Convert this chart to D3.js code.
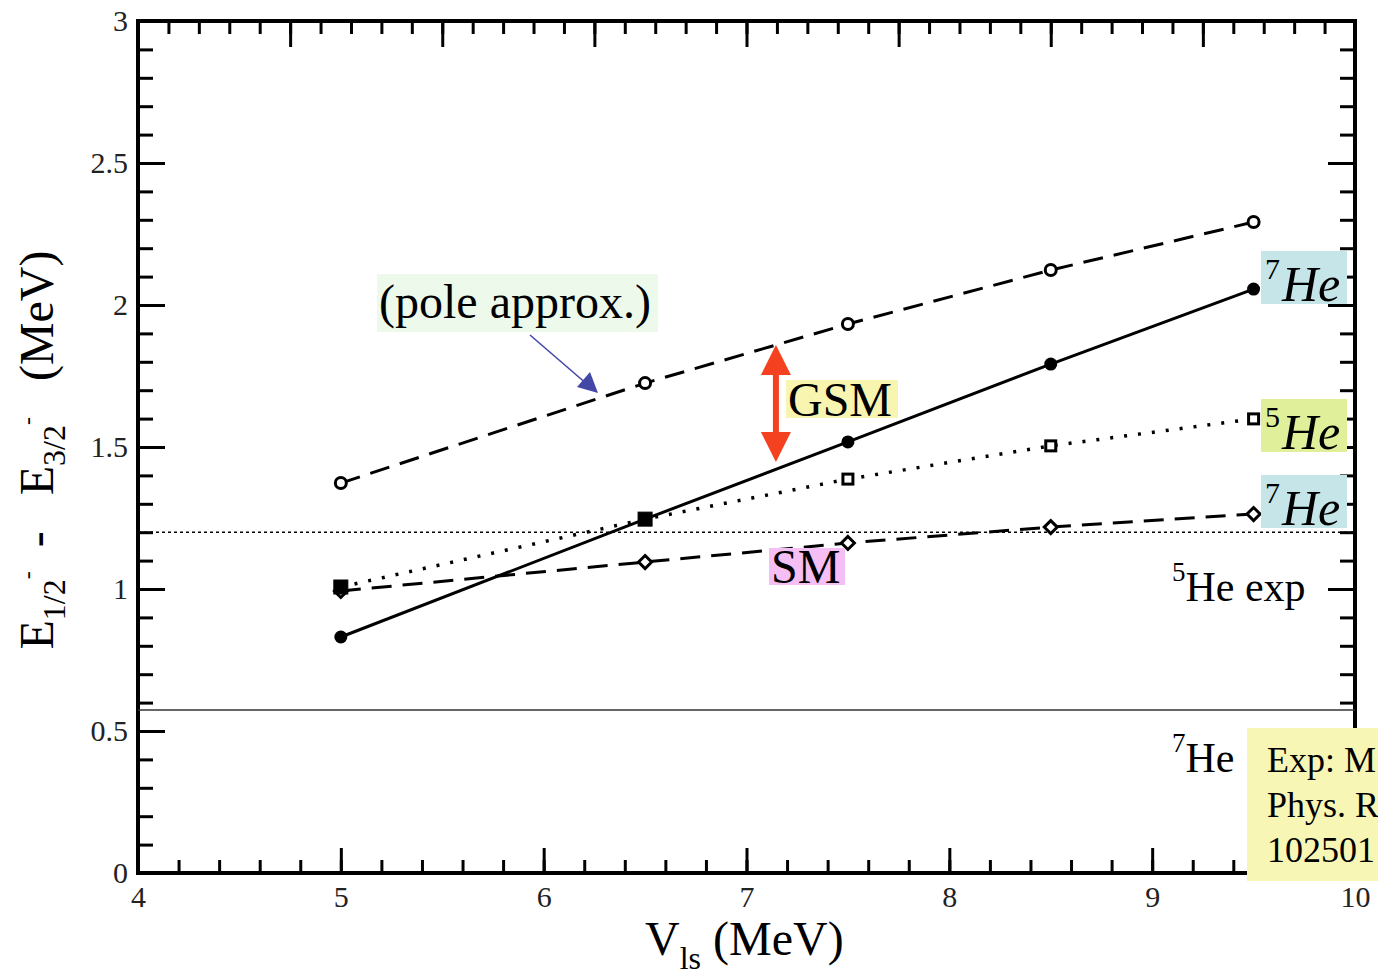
<!DOCTYPE html>
<html lang="en">
<head>
<meta charset="utf-8">
<title>Spin-orbit splitting</title>
<style>
  body { margin: 0; background: #fff; }
  svg { display: block; font-family: "Liberation Serif", "DejaVu Serif", serif; }
</style>
<script src="https://d3js.org/d3.v7.min.js"></script>
</head>
<body>
<script>
// data
var vls = [5, 6.5, 7.5, 8.5, 9.5];
var poleApprox = [1.373, 1.725, 1.933, 2.123, 2.292];
var gsm7He = [0.831, 1.246, 1.518, 1.792, 2.056];
var gsm5He = [1.007, 1.246, 1.387, 1.504, 1.599];
var sm7He = [0.993, 1.095, 1.162, 1.218, 1.264];
var exp5He = 1.20, exp7He = 0.574;
var xTicks = [4, 5, 6, 7, 8, 9, 10];
var yTicks = [0, 0.5, 1, 1.5, 2, 2.5, 3];

var W = 1378, H = 980;
var pL = 138, pR = 1355, pT = 21, pB = 873;

var svg = d3.select("body").append("svg").attr("width", W).attr("height", H);

var x = d3.scaleLinear().domain([4, 10]).range([pL, pR]);
var xTop = d3.scaleLinear().domain([0, 8]).range([pL, pR]);
var y = d3.scaleLinear().domain([0, 3]).range([pB, pT]);

function minor(lo, hi, step) {
  var a = [];
  for (var i = 0; lo + i * step <= hi + 1e-9; i++) a.push(+(lo + i * step).toFixed(3));
  return a;
}

function styleAxis(g) {
  g.select(".domain").remove();
  g.selectAll(".tick line").attr("stroke", "#000").attr("stroke-width", 3);
  g.selectAll(".tick text").attr("font-size", 30).attr("font-family", "Liberation Serif").attr("fill", "#222");
}

// bottom
svg.append("g").attr("transform", "translate(0," + pB + ")")
  .call(d3.axisBottom(x).tickValues(minor(4, 10, 0.2)).tickSize(-13).tickFormat(""))
  .call(styleAxis);
svg.append("g").attr("transform", "translate(0," + pB + ")")
  .call(d3.axisBottom(x).tickValues(xTicks).tickSize(-25).tickPadding(13).tickFormat(d3.format("d")))
  .call(styleAxis);
// top (unlabelled)
svg.append("g").attr("transform", "translate(0," + pT + ")")
  .call(d3.axisTop(xTop).tickValues(minor(0, 8, 0.2)).tickSize(-13).tickFormat(""))
  .call(styleAxis);
svg.append("g").attr("transform", "translate(0," + pT + ")")
  .call(d3.axisTop(xTop).ticks(8).tickSize(-26).tickFormat(""))
  .call(styleAxis);
// left
svg.append("g").attr("transform", "translate(" + pL + ",0)")
  .call(d3.axisLeft(y).tickValues(minor(0, 3, 0.1)).tickSize(-15).tickFormat(""))
  .call(styleAxis);
svg.append("g").attr("transform", "translate(" + pL + ",0)")
  .call(d3.axisLeft(y).tickValues(yTicks).tickSize(-27).tickPadding(10).tickFormat(d3.format("")))
  .call(styleAxis);
// right
svg.append("g").attr("transform", "translate(" + pR + ",0)")
  .call(d3.axisRight(y).tickValues(minor(0, 3, 0.1)).tickSize(-15).tickFormat(""))
  .call(styleAxis);
svg.append("g").attr("transform", "translate(" + pR + ",0)")
  .call(d3.axisRight(y).tickValues(yTicks).tickSize(-27).tickFormat(""))
  .call(styleAxis);

// frame
svg.append("rect").attr("x", pL).attr("y", pT)
  .attr("width", pR - pL).attr("height", pB - pT)
  .attr("fill", "none").attr("stroke", "#000").attr("stroke-width", 4);

// experimental lines
svg.append("line").attr("x1", pL).attr("x2", pR).attr("y1", y(exp5He)).attr("y2", y(exp5He))
  .attr("stroke", "#000").attr("stroke-width", 1.5).attr("stroke-dasharray", "3,3");
svg.append("line").attr("x1", pL).attr("x2", pR).attr("y1", y(exp7He)).attr("y2", y(exp7He))
  .attr("stroke", "#333").attr("stroke-width", 1.6);

var line = d3.line().x(function(d) { return x(d[0]); }).y(function(d) { return y(d[1]); });
function pts(vals) { return vls.map(function(v, i) { return [v, vals[i]]; }); }

// curves
svg.append("path").datum(pts(poleApprox)).attr("d", line)
  .attr("fill", "none").attr("stroke", "#000").attr("stroke-width", 3).attr("stroke-dasharray", "20,11");
svg.append("path").datum(pts(sm7He)).attr("d", line)
  .attr("fill", "none").attr("stroke", "#000").attr("stroke-width", 3).attr("stroke-dasharray", "20,11");
svg.append("path").datum(pts(gsm5He)).attr("d", line)
  .attr("fill", "none").attr("stroke", "#000").attr("stroke-width", 3.5).attr("stroke-dasharray", "3,11");
svg.append("path").datum(pts(gsm7He)).attr("d", line)
  .attr("fill", "none").attr("stroke", "#000").attr("stroke-width", 3);

// markers
svg.selectAll(".pole").data(pts(poleApprox)).enter().append("circle")
  .attr("cx", function(d) { return x(d[0]); }).attr("cy", function(d) { return y(d[1]); })
  .attr("r", 5.5).attr("fill", "#fff").attr("stroke", "#000").attr("stroke-width", 3);
svg.selectAll(".sm").data(pts(sm7He)).enter().append("path")
  .attr("transform", function(d) { return "translate(" + x(d[0]) + "," + y(d[1]) + ")"; })
  .attr("d", "M0,-6.5L6.5,0L0,6.5L-6.5,0Z")
  .attr("fill", "#fff").attr("stroke", "#000").attr("stroke-width", 3);
svg.selectAll(".g7").data(pts(gsm7He)).enter().append("circle")
  .attr("cx", function(d) { return x(d[0]); }).attr("cy", function(d) { return y(d[1]); })
  .attr("r", 6.5).attr("fill", "#000");
svg.selectAll(".g5").data(pts(gsm5He)).enter().append("rect")
  .each(function(d, i) {
    var s = i < 2 ? 14 : 10;
    d3.select(this)
      .attr("x", x(d[0]) - s / 2).attr("y", y(d[1]) - s / 2)
      .attr("width", s).attr("height", s)
      .attr("fill", i < 2 ? "#000" : "#fff")
      .attr("stroke", "#000").attr("stroke-width", i < 2 ? 1 : 3);
  });

// label helpers
function box(x0, y0, w, h, c) {
  svg.append("rect").attr("x", x0).attr("y", y0).attr("width", w).attr("height", h).attr("fill", c);
}

// (pole approx.)
box(377, 274, 281, 58, "#edf9ea");
svg.append("text").attr("x", 379).attr("y", 318).attr("font-size", 48).text("(pole approx.)");

// blue arrow
svg.append("line").attr("x1", 530).attr("y1", 335).attr("x2", 588).attr("y2", 385)
  .attr("stroke", "#4348a6").attr("stroke-width", 1.6);
svg.append("path").attr("d", "M598,393L577,387L590,372Z").attr("fill", "#4348a6");

// red double arrow
var ax = x(7.145), ay1 = y(1.859), ay2 = y(1.447);
svg.append("line").attr("x1", ax).attr("x2", ax).attr("y1", ay1 + 25).attr("y2", ay2 - 25)
  .attr("stroke", "#f4411f").attr("stroke-width", 6);
svg.append("path").attr("d", "M" + ax + "," + ay1 + "l15,30l-30,0Z").attr("fill", "#f4411f");
svg.append("path").attr("d", "M" + ax + "," + ay2 + "l15,-30l-30,0Z").attr("fill", "#f4411f");

// GSM / SM
box(786, 380, 112, 38, "#f8f5b0");
svg.append("text").attr("x", 788).attr("y", 416).attr("font-size", 48).text("GSM");
box(769, 548, 76, 37, "#f5bff5");
svg.append("text").attr("x", 771).attr("y", 583).attr("font-size", 48).text("SM");

// isotope tags at right end
function tag(y0, mass, c) {
  box(1261, y0, 86, 53, c);
  var t = svg.append("text").attr("x", 1265).attr("y", y0 + 50).attr("font-size", 50);
  t.append("tspan").attr("font-size", 30).attr("dy", -22).text(mass);
  t.append("tspan").attr("font-style", "italic").attr("dy", 22).attr("dx", 2).text("He");
}
tag(251, "7", "#c5e5e8");
tag(399, "5", "#e0ef9a");
tag(475, "7", "#c5e5e8");

// experimental labels
function expLabel(x0, yb, mass, rest) {
  var t = svg.append("text").attr("x", x0).attr("y", yb).attr("font-size", 42);
  t.append("tspan").attr("font-size", 27).attr("dy", -20).text(mass);
  t.append("tspan").attr("dy", 20).text(rest);
}
expLabel(1172, 601, "5", "He exp");
expLabel(1172, 772, "7", "He");

// reference note (clipped at the page edge)
box(1247, 728, 140, 153, "#f8f6b4");
var note = ["Exp: M", "Phys. R", "102501"];
note.forEach(function(s, i) {
  svg.append("text").attr("x", 1267).attr("y", 772 + i * 45).attr("font-size", 36).text(s);
});

// axis titles
var xl = svg.append("text").attr("x", 645).attr("y", 955).attr("font-size", 48);
xl.append("tspan").text("V");
xl.append("tspan").attr("font-size", 32).attr("dy", 14).text("ls");
xl.append("tspan").attr("dy", -14).text("\u00a0(MeV)");

var yl = svg.append("text").attr("transform", "translate(53,450) rotate(-90)")
  .attr("text-anchor", "middle").attr("font-size", 48);
yl.append("tspan").text("E");
yl.append("tspan").attr("font-size", 32).attr("dy", 12).text("1/2");
yl.append("tspan").attr("font-size", 24).attr("dy", -30).text("-");
yl.append("tspan").attr("dy", 18).text("\u00a0\u00a0-\u00a0\u00a0\u00a0E");
yl.append("tspan").attr("font-size", 32).attr("dy", 12).text("3/2");
yl.append("tspan").attr("font-size", 24).attr("dy", -30).text("-");
yl.append("tspan").attr("dy", 18).text("\u00a0\u00a0\u00a0(MeV)");
</script>
</body>
</html>
